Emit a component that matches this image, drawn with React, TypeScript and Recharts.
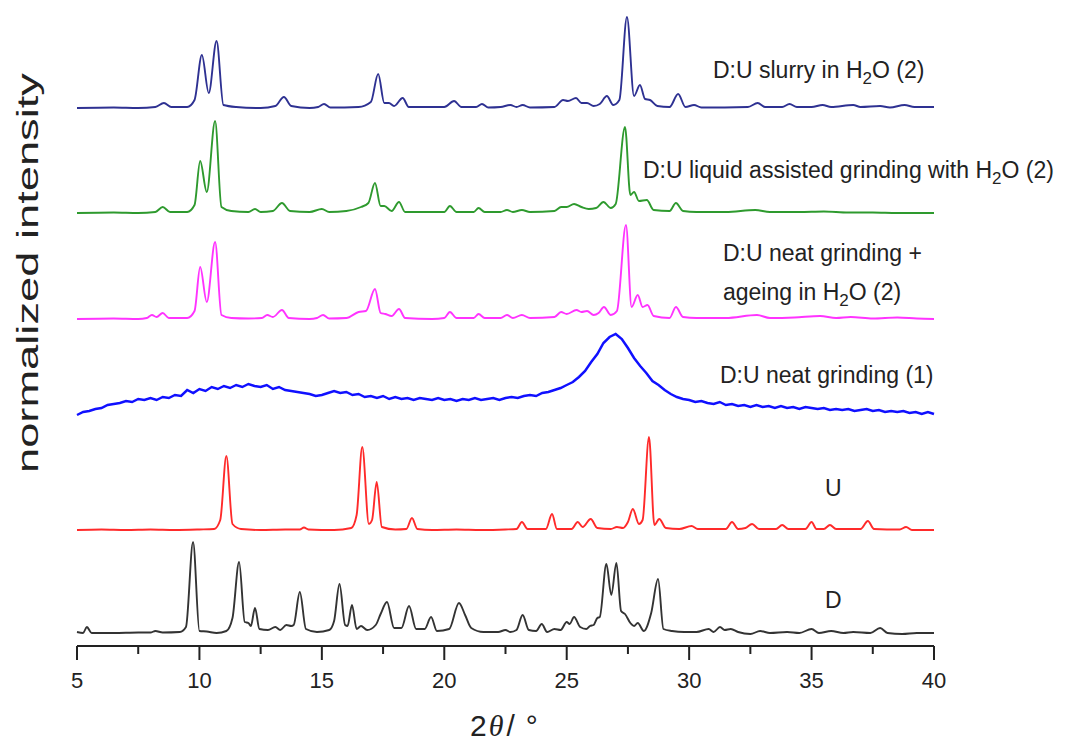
import { LineChart, Line, XAxis, YAxis } from 'recharts';

// 2-theta positions (deg) and relative intensities
const patternD: [number, number][] = [
  [5.0, 1], [5.25, 0], [5.4, 6], [5.6, 0], [6.5, 0], [7.5, 0.5], [8.0, 0.5], [8.2, 2], [8.5, 0.5], [9.2, 1],
  [9.45, 6], [9.74, 91], [10.0, 2], [10.3, 1.5], [10.7, 0], [11.1, 2], [11.35, 15], [11.62, 71], [11.85, 11],
  [12.0, 10], [12.1, 7], [12.27, 25], [12.45, 4], [12.8, 3], [13.1, 6], [13.3, 3], [13.55, 8], [13.75, 7],
  [13.85, 8], [14.1, 41], [14.35, 4], [14.8, 1], [15.3, 3], [15.5, 12], [15.72, 49], [15.95, 8], [16.05, 7],
  [16.23, 28], [16.42, 4], [16.6, 7], [16.85, 3], [17.2, 8], [17.4, 19], [17.66, 31], [17.95, 5], [18.25, 5],
  [18.56, 27], [18.85, 4], [19.2, 4], [19.46, 16], [19.7, 2], [20.2, 4], [20.6, 30], [20.85, 18], [21.1, 5],
  [21.6, 1], [22.2, 1], [22.5, 3], [22.7, 1], [22.95, 3], [23.2, 18], [23.45, 3], [23.75, 2], [23.98, 9],
  [24.2, 1], [24.5, 4], [24.75, 3], [25.0, 11], [25.12, 9], [25.3, 16], [25.55, 6], [25.8, 4], [25.95, 7],
  [26.1, 8], [26.25, 15], [26.35, 16], [26.62, 69], [26.82, 38], [27.03, 70], [27.22, 22], [27.38, 19],
  [27.6, 10], [27.75, 7], [27.9, 10], [28.15, 2], [28.45, 20], [28.73, 54], [28.95, 4], [29.3, 2], [29.8, 1],
  [30.3, 1], [30.8, 4], [31.0, 1], [31.26, 6], [31.45, 3], [31.7, 4], [32.0, 1], [32.5, -1], [32.9, 2],
  [33.3, 0], [34.0, 1], [34.5, 0], [35.0, 4], [35.3, 0], [35.8, 2], [36.3, 0], [36.7, 1], [37.4, 0],
  [37.8, 5], [38.1, 0], [38.7, -1], [39.3, 0], [40, 0],
];

const patternU: [number, number][] = [
  [5, 0], [6, 0.5], [7, 0], [8, 0.5], [9, 0], [10, 0.5], [10.6, 1], [10.85, 10], [11.1, 74], [11.35, 6],
  [11.7, 1], [12.5, 0], [13.5, 0.5], [14.1, 0.5], [14.27, 2.5], [14.45, 0.5], [15.5, 0], [16.2, 2],
  [16.42, 15], [16.65, 83], [16.92, 6], [17.05, 10], [17.24, 48], [17.45, 3], [18.0, 0.5], [18.45, 1],
  [18.68, 12], [18.9, 1], [19.5, 0], [20.5, 0.5], [21.5, 0], [22.5, 0.5], [22.95, 1], [23.17, 8], [23.4, 1],
  [24.15, 1], [24.4, 16], [24.6, 1], [25.2, 1], [25.45, 8], [25.65, 3], [25.98, 11], [26.25, 2], [26.8, 1],
  [27.05, 3], [27.3, 2], [27.5, 8], [27.7, 21], [27.95, 6], [28.1, 10], [28.36, 93], [28.58, 5], [28.78, 11],
  [29.05, 2], [29.6, 1], [30.1, 4], [30.35, 1], [31.5, 1], [31.75, 8], [32.0, 1], [32.3, 2], [32.57, 6],
  [32.85, 1], [33.55, 1], [33.8, 5], [34.05, 1], [34.75, 1], [35.0, 8], [35.2, 1], [35.5, 1], [35.75, 5],
  [36.0, 1], [37.0, 1], [37.3, 9], [37.55, 1], [38.6, 0.5], [38.86, 3], [39.1, 0], [40, 0],
];

const patternNeat: [number, number][] = [
  [5.0, 1], [5.25, 4], [5.5, 5], [5.75, 7], [6.0, 8], [6.25, 11], [6.5, 12], [6.75, 13], [7.0, 15],
  [7.25, 14], [7.5, 17], [7.75, 16], [8.0, 18], [8.25, 16], [8.5, 19], [8.75, 18], [9.0, 21], [9.25, 20],
  [9.5, 26], [9.75, 23], [10.0, 27], [10.25, 25], [10.5, 29], [10.75, 27], [11.0, 30], [11.25, 28],
  [11.5, 31], [11.75, 29], [12.0, 32], [12.25, 30], [12.5, 29], [12.75, 31], [13.0, 27], [13.25, 29],
  [13.5, 26], [13.75, 25], [14.0, 24], [14.25, 23], [14.5, 22], [14.75, 20], [15.0, 21], [15.25, 23],
  [15.5, 25], [15.75, 23], [16.0, 24], [16.25, 21], [16.5, 22], [16.75, 19], [17.0, 20], [17.25, 18],
  [17.5, 20], [17.75, 17], [18.0, 19], [18.25, 17], [18.5, 18], [18.75, 16], [19.0, 18], [19.25, 17],
  [19.5, 16], [19.75, 18], [20.0, 16], [20.25, 17], [20.5, 15], [20.75, 17], [21.0, 16], [21.25, 18],
  [21.5, 16], [21.75, 17], [22.0, 18], [22.25, 16], [22.5, 18], [22.75, 19], [23.0, 18], [23.25, 20],
  [23.5, 21], [23.75, 20], [24.0, 23], [24.25, 24], [24.5, 26], [24.75, 28], [25.0, 31], [25.25, 34],
  [25.5, 39], [25.75, 45], [26.0, 54], [26.25, 62], [26.5, 73], [26.75, 79], [27.0, 82], [27.25, 77],
  [27.5, 68], [27.75, 58], [28.0, 50], [28.25, 43], [28.5, 35], [28.75, 31], [29.0, 26], [29.25, 22],
  [29.5, 19], [29.75, 17], [30.0, 16], [30.25, 14], [30.5, 15], [30.75, 13], [31.0, 12], [31.25, 14],
  [31.5, 11], [31.75, 12], [32.0, 10], [32.25, 11], [32.5, 9], [32.75, 11], [33.0, 9], [33.25, 10],
  [33.5, 8], [33.75, 10], [34.0, 8], [34.25, 9], [34.5, 7], [34.75, 9], [35.0, 8], [35.25, 7], [35.5, 8],
  [35.75, 6], [36.0, 7], [36.25, 6], [36.5, 7], [36.75, 5], [37.0, 6], [37.25, 7], [37.5, 5], [37.75, 6],
  [38.0, 4], [38.25, 5], [38.5, 4], [38.75, 5], [39.0, 3], [39.25, 4], [39.5, 2], [39.75, 4], [40.0, 2],
];

const patternAgeing: [number, number][] = [
  [5, 0], [6.5, 0.5], [7.5, 0], [7.85, 1], [8.06, 4], [8.25, 2], [8.5, 6], [8.75, 1], [9.5, 1], [9.8, 8],
  [10.03, 52], [10.3, 17], [10.64, 77], [10.9, 4], [11.3, 1], [12.0, 0.5], [12.55, 1], [12.77, 4], [13.0, 2],
  [13.37, 9], [13.65, 1], [14.5, 0], [14.8, 1], [15.05, 4], [15.3, 0.5], [16.0, 1], [16.5, 7], [16.8, 8],
  [17.17, 30], [17.4, 6], [17.59, 5], [17.85, 3], [18.15, 10], [18.4, 1], [19.5, 0], [20.0, 1], [20.23, 7],
  [20.5, 1], [21.2, 1], [21.4, 5], [21.65, 1], [22.3, 1], [22.56, 4], [22.8, 1], [23.17, 4], [23.5, 1],
  [24.5, 2], [24.77, 7], [25.0, 5], [25.4, 9], [25.6, 7], [25.83, 8], [26.1, 4], [26.3, 6], [26.52, 12],
  [26.8, 4], [27.05, 8], [27.42, 94], [27.65, 12], [27.9, 24], [28.1, 12], [28.3, 14], [28.55, 3], [29.2, 1],
  [29.46, 12], [29.75, 2], [30.3, 1], [31.5, 1], [32.77, 4], [33.3, 1], [34.3, 1.5], [35.35, 3], [36.0, 1],
  [36.6, 2], [37.5, 0.5], [38.5, 1.5], [39.3, 0.5], [40, 0],
];

const patternLag: [number, number][] = [
  [5, 0], [6.5, 0.5], [7.5, 0], [8.2, 1], [8.5, 6], [8.8, 1], [9.5, 1], [9.8, 8], [10.03, 52], [10.3, 21],
  [10.64, 92], [10.9, 6], [11.3, 2], [12.0, 1], [12.27, 4], [12.5, 1], [13.0, 2], [13.37, 10], [13.7, 2],
  [14.5, 1], [15.0, 4], [15.3, 1], [16.0, 2], [16.6, 6], [16.9, 10], [17.17, 30], [17.4, 7], [17.55, 7],
  [17.85, 2], [18.15, 11], [18.4, 1], [19.5, 1], [20.0, 1], [20.23, 7], [20.5, 1], [21.2, 1], [21.4, 5],
  [21.65, 1], [22.3, 1], [22.56, 3], [22.8, 1], [23.17, 3], [23.5, 1], [24.5, 2], [24.77, 6], [25.0, 6],
  [25.3, 9], [25.6, 6], [25.9, 4], [26.2, 5], [26.5, 11], [26.8, 5], [27.0, 9], [27.38, 86], [27.6, 18],
  [27.75, 21], [27.95, 12], [28.27, 13], [28.55, 3], [29.2, 2], [29.46, 10], [29.75, 2], [30.3, 1], [31.5, 1],
  [32.7, 3], [33.3, 1], [34.5, 1], [35.5, 1.5], [36.5, 0.5], [37.5, 0.5], [38.5, 0], [40, 0],
];

const patternSlurry: [number, number][] = [
  [5, 0], [6.5, 0.5], [7.5, 0], [8.2, 1], [8.55, 5], [8.85, 1], [9.5, 1], [9.8, 8], [10.1, 53], [10.38, 15],
  [10.7, 67], [10.98, 3], [11.5, 1], [12.5, 0], [13.1, 2], [13.45, 11], [13.75, 2], [14.5, 0], [14.85, 1],
  [15.09, 4], [15.35, 0.5], [16.5, 1], [17.0, 6], [17.3, 34], [17.55, 5], [17.74, 5], [17.95, 2], [18.3, 10],
  [18.55, 1], [20.0, 1], [20.4, 7], [20.7, 1], [21.3, 1], [21.54, 4], [21.8, 0.5], [22.3, 1], [22.7, 3],
  [22.95, 1], [23.2, 3], [23.5, 0.5], [24.5, 1], [24.85, 8], [25.05, 7], [25.38, 10], [25.6, 5], [25.83, 5],
  [26.1, 2], [26.35, 4], [26.64, 12], [26.9, 3], [27.15, 8], [27.46, 91], [27.75, 12], [27.99, 23], [28.2, 9],
  [28.4, 8], [28.7, 2], [29.2, 1], [29.55, 14], [29.85, 1], [30.2, 3], [30.5, 0.5], [32.4, 1], [32.8, 5],
  [33.1, 1], [33.8, 1], [34.1, 4], [34.4, 1], [35.0, 1], [35.45, 3], [35.8, 1], [36.7, 3], [37.0, 1],
  [37.8, 2], [38.2, 0.5], [38.8, 3], [39.2, 1], [40, 1],
];

// vertical stacking offsets, bottom to top
const offsets = [13, 116, 230, 327, 433, 538];
const xTicks = [5, 7.5, 10, 12.5, 15, 17.5, 20, 22.5, 25, 27.5, 30, 32.5, 35, 37.5, 40];

const toPoints = (pts: [number, number][], offset: number) => pts.map(([x, y]) => ({ x, y: y + offset }));

const series = [
  { name: 'D', pts: patternD, color: '#333333' },
  { name: 'U', pts: patternU, color: '#ff2a2a' },
  { name: 'neat', pts: patternNeat, color: '#1010ff' },
  { name: 'ageing', pts: patternAgeing, color: '#ff33ff' },
  { name: 'lag', pts: patternLag, color: '#2e9a2e' },
  { name: 'slurry', pts: patternSlurry, color: '#2e3192' },
];

const font = '"Liberation Sans", Arial, sans-serif';

const AxisTick = (props: any) => {
  const { x, y, payload } = props;
  const major = payload.value % 5 === 0;
  return (
    <g>
      <line x1={x} x2={x} y1={y} y2={y + (major ? 14 : 8)} stroke="#222" strokeWidth={2} />
      {major && (
        <text x={x} y={y + 42} textAnchor="middle" fontSize={22} fontFamily={font} fill="#222">
          {payload.value}
        </text>
      )}
    </g>
  );
};

const Sub = ({ children }: { children: string }) => (
  <>
    <tspan fontSize={17} dy={6}>{children}</tspan>
    <tspan dy={-6}>O</tspan>
  </>
);

export default function App() {
  return (
    <div style={{ position: 'absolute', left: 0, top: 0, width: 1072, height: 744, background: '#fff' }}>
      <LineChart width={1072} height={744} margin={{ top: 12, right: 138, bottom: 38, left: 77 }}>
        <XAxis
          type="number"
          dataKey="x"
          domain={[5, 40]}
          ticks={xTicks}
          interval={0}
          height={60}
          tickSize={0}
          tickMargin={0}
          tickLine={false}
          tick={<AxisTick />}
          axisLine={{ stroke: '#222', strokeWidth: 2 }}
          allowDuplicatedCategory={false}
        />
        <YAxis
          type="number"
          domain={[0, 634]}
          width={0}
          tick={false}
          tickLine={false}
          axisLine={{ stroke: '#222', strokeWidth: 2 }}
        />
        {series.map((s, i) => (
          <Line
            key={s.name}
            data={toPoints(s.pts, offsets[i])}
            dataKey="y"
            type={s.name === 'neat' ? 'linear' : 'monotone'}
            stroke={s.color}
            strokeWidth={s.name === 'neat' ? 2.5 : 1.9}
            dot={false}
            activeDot={false}
            isAnimationActive={false}
          />
        ))}
      </LineChart>
      <svg width={1072} height={744} style={{ position: 'absolute', left: 0, top: 0, pointerEvents: 'none' }}>
        <g fontFamily={font} fontSize={23} fill="#222">
          <text x={713} y={78}>D:U slurry in H<Sub>2</Sub> (2)</text>
          <text x={643} y={178}>D:U liquid assisted grinding with H<Sub>2</Sub> (2)</text>
          <text x={723} y={261}>D:U neat grinding +</text>
          <text x={723} y={300}>ageing in H<Sub>2</Sub> (2)</text>
          <text x={720} y={383}>D:U neat grinding (1)</text>
          <text x={825} y={496}>U</text>
          <text x={825} y={608}>D</text>
        </g>
        <text
          transform="translate(38, 273) rotate(-90)"
          textAnchor="middle"
          fontFamily={font}
          fontSize={30}
          textLength={400}
          lengthAdjust="spacingAndGlyphs"
          fill="#222"
        >
          normalized intensity
        </text>
        <text x={470} y={736} fontFamily={font} fontSize={30} fill="#222">
          2
          <tspan dx={2} fontFamily='"Liberation Serif", serif' fontStyle="italic">θ</tspan>
          <tspan dx={3}>/</tspan>
          <tspan dx={11}>°</tspan>
        </text>
      </svg>
    </div>
  );
}
